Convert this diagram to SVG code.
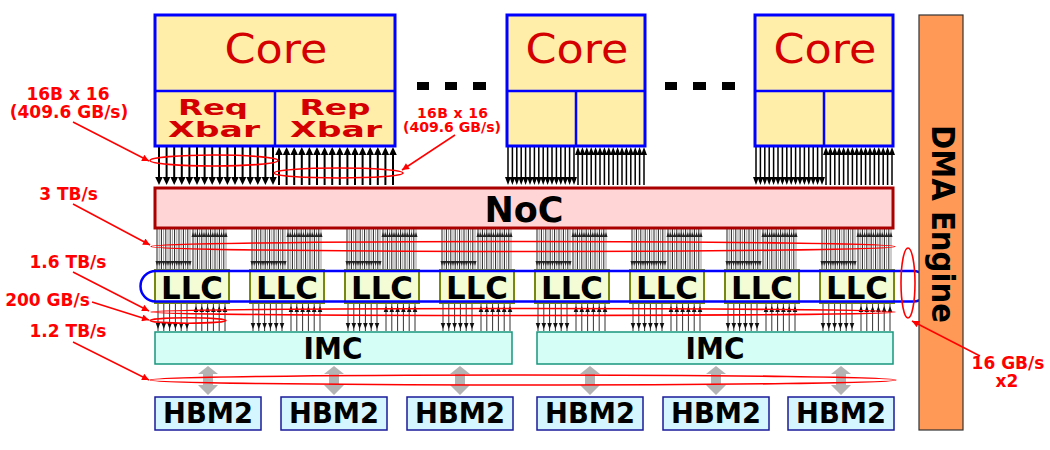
<svg xmlns="http://www.w3.org/2000/svg" width="1050" height="450" viewBox="0 0 1050 450">
<style>
.core{fill:#ffeeaa;stroke:#0000ff;stroke-width:3}
.div{stroke:#0000ff;stroke-width:2.5;fill:none}
.ct{font-family:"DejaVu Sans",sans-serif;font-size:41px;fill:#d40000;text-anchor:middle}
.xt{font-family:"DejaVu Sans",sans-serif;font-weight:bold;font-size:22px;fill:#d40000;text-anchor:middle}
.bt{font-family:"DejaVu Sans",sans-serif;font-weight:bold;fill:#000;text-anchor:middle}
.llc{fill:#f4fcd6;stroke:#778811;stroke-width:2}
.imc{fill:#d5fff6;stroke:#17967d;stroke-width:1.5}
.hbm{fill:#d5f6ff;stroke:#1a1a99;stroke-width:1.5}
.rl{font-family:"DejaVu Sans",sans-serif;font-weight:bold;fill:#ff0000;text-anchor:middle}
.re{fill:none;stroke:#ff0000;stroke-width:1.6}
.ra{fill:none;stroke:#ff0000;stroke-width:1.5;marker-end:url(#rah)}
.ga{fill:#b3b3b3}
</style>
<defs>
<marker id="rah" viewBox="0 0 10 10" refX="10" refY="5" markerWidth="10" markerHeight="7" markerUnits="userSpaceOnUse" orient="auto"><path d="M0,0L10,5L0,10z" fill="#ff0000"/></marker>
<g id="bw">
<path d="M0,0V35M7.6,0V35M15.2,0V35M22.8,0V35M30.4,0V35M38,0V35M45.6,0V35M53.2,0V35M60.8,0V35M68.4,0V35M76,0V35M83.6,0V35M91.2,0V35M98.8,0V35M106.4,0V35M114,0V35" stroke="#000" stroke-width="2"/>
<path d="M-3.8,30H117.8L114,38L110.2,30L106.4,38L102.6,30L98.8,38L95,30L91.2,38L87.4,30L83.6,38L79.8,30L76,38L72.2,30L68.4,38L64.6,30L60.8,38L57,30L53.2,38L49.4,30L45.6,38L41.8,30L38,38L34.2,30L30.4,38L26.6,30L22.8,38L19,30L15.2,38L11.4,30L7.6,38L3.8,30L0,38Z" fill="#000"/>
</g>
<g id="bn">
<path d="M0,0V35M4.4,0V35M8.8,0V35M13.2,0V35M17.6,0V35M22,0V35M26.4,0V35M30.8,0V35M35.2,0V35M39.6,0V35M44,0V35M48.4,0V35M52.8,0V35M57.2,0V35M61.6,0V35M66,0V35" stroke="#000" stroke-width="1.5"/>
<path d="M-3,30H69L66,38L63.8,32.1L61.6,38L59.4,32.1L57.2,38L55,32.1L52.8,38L50.6,32.1L48.4,38L46.2,32.1L44,38L41.8,32.1L39.6,38L37.4,32.1L35.2,38L33,32.1L30.8,38L28.6,32.1L26.4,38L24.2,32.1L22,38L19.8,32.1L17.6,38L15.4,32.1L13.2,38L11,32.1L8.8,38L6.6,32.1L4.4,38L2.2,32.1L0,38Z" fill="#000"/>
</g>
<g id="bl">
<path d="M0,0V40M4.4,0V40M8.8,0V40M13.2,0V40M17.6,0V40M22,0V40M26.4,0V40M30.8,0V40" stroke="#222" stroke-width="1"/>
<path d="M2.2,0V40M6.6,0V40M11,0V40M15.4,0V40M19.8,0V40M24.2,0V40M28.6,0V40M33,0V40" stroke="#999" stroke-width="1"/>
<path d="M-1.5,32H34.5L33,37L31.9,33.3L30.8,37L29.7,33.3L28.6,37L27.5,33.3L26.4,37L25.3,33.3L24.2,37L23.1,33.3L22,37L20.9,33.3L19.8,37L18.7,33.3L17.6,37L16.5,33.3L15.4,37L14.3,33.3L13.2,37L12.1,33.3L11,37L9.9,33.3L8.8,37L7.7,33.3L6.6,37L5.5,33.3L4.4,37L3.3,33.3L2.2,37L1.1,33.3L0,37Z" fill="#222"/>
</g>
<g id="bi">
<path d="M0,0V27M5.8,0V27M11.6,0V27M17.4,0V27M23.2,0V27M29,0V27" stroke="#333" stroke-width="1"/>
<path d="M-2.3,19H2.3L0,25ZM3.5,19H8.1L5.8,25ZM9.3,19H13.9L11.6,25ZM15.1,19H19.7L17.4,25ZM20.9,19H25.5L23.2,25ZM26.7,19H31.3L29,25Z" fill="#111"/>
</g>
<path id="dbl" d="M0,0L10,8H5V19H10L0,29L-10,19H-5V8H-10Z"/>
</defs>
<rect width="1050" height="450" fill="#fff"/>

<g id="connectors">
<use href="#bw" transform="translate(159,147)"/>
<use href="#bw" transform="translate(279,185) scale(1,-1)"/>
<use href="#bn" transform="translate(508,147)"/>
<use href="#bn" transform="translate(578,185) scale(1,-1)"/>
<use href="#bn" transform="translate(756,147)"/>
<use href="#bn" transform="translate(826,185) scale(1,-1)"/>

<use href="#bl" transform="translate(157,229)"/>
<use href="#bl" transform="translate(193,269) scale(1,-1)"/>
<use href="#bl" transform="translate(252,229)"/>
<use href="#bl" transform="translate(288,269) scale(1,-1)"/>
<use href="#bl" transform="translate(347,229)"/>
<use href="#bl" transform="translate(383,269) scale(1,-1)"/>
<use href="#bl" transform="translate(442,229)"/>
<use href="#bl" transform="translate(478,269) scale(1,-1)"/>
<use href="#bl" transform="translate(537,229)"/>
<use href="#bl" transform="translate(573,269) scale(1,-1)"/>
<use href="#bl" transform="translate(632,229)"/>
<use href="#bl" transform="translate(668,269) scale(1,-1)"/>
<use href="#bl" transform="translate(727,229)"/>
<use href="#bl" transform="translate(763,269) scale(1,-1)"/>
<use href="#bl" transform="translate(822,229)"/>
<use href="#bl" transform="translate(858,269) scale(1,-1)"/>

<use href="#bi" transform="translate(158,304)"/>
<use href="#bi" transform="translate(196,331) scale(1,-1)"/>
<use href="#bi" transform="translate(253,304)"/>
<use href="#bi" transform="translate(291,331) scale(1,-1)"/>
<use href="#bi" transform="translate(348,304)"/>
<use href="#bi" transform="translate(386,331) scale(1,-1)"/>
<use href="#bi" transform="translate(443,304)"/>
<use href="#bi" transform="translate(481,331) scale(1,-1)"/>
<use href="#bi" transform="translate(538,304)"/>
<use href="#bi" transform="translate(576,331) scale(1,-1)"/>
<use href="#bi" transform="translate(633,304)"/>
<use href="#bi" transform="translate(671,331) scale(1,-1)"/>
<use href="#bi" transform="translate(728,304)"/>
<use href="#bi" transform="translate(766,331) scale(1,-1)"/>
<use href="#bi" transform="translate(823,304)"/>
<use href="#bi" transform="translate(861,331) scale(1,-1)"/>

<use href="#dbl" class="ga" transform="translate(208,366)"/>
<use href="#dbl" class="ga" transform="translate(334,366)"/>
<use href="#dbl" class="ga" transform="translate(460,366)"/>
<use href="#dbl" class="ga" transform="translate(590,366)"/>
<use href="#dbl" class="ga" transform="translate(716,366)"/>
<use href="#dbl" class="ga" transform="translate(841,366)"/>
</g>

<g id="core1">
<rect class="core" x="155" y="15" width="240" height="131"/>
<path class="div" d="M155,91H395M275,91V146"/>
<text class="ct" x="276" y="63" textLength="103" lengthAdjust="spacingAndGlyphs">Core</text>
<text class="xt" x="213" y="115" textLength="70" lengthAdjust="spacingAndGlyphs">Req</text>
<text class="xt" x="214" y="137" textLength="92" lengthAdjust="spacingAndGlyphs">Xbar</text>
<text class="xt" x="335" y="115" textLength="71" lengthAdjust="spacingAndGlyphs">Rep</text>
<text class="xt" x="336" y="137" textLength="92" lengthAdjust="spacingAndGlyphs">Xbar</text>
</g>
<g id="core2">
<rect class="core" x="507" y="15" width="138" height="131"/>
<path class="div" d="M507,91H645M576,91V146"/>
<text class="ct" x="577" y="63" textLength="103" lengthAdjust="spacingAndGlyphs">Core</text>
</g>
<g id="core3">
<rect class="core" x="755" y="15" width="138" height="131"/>
<path class="div" d="M755,91H893M824,91V146"/>
<text class="ct" x="825" y="63" textLength="103" lengthAdjust="spacingAndGlyphs">Core</text>
</g>
<g id="ellipsis">
<rect x="417" y="82" width="12" height="8"/>
<rect x="445" y="82" width="12" height="8"/>
<rect x="473" y="82" width="13" height="8"/>
<rect x="665" y="82" width="12" height="8"/>
<rect x="693" y="82" width="13" height="8"/>
<rect x="722" y="82" width="13" height="8"/>
</g>

<g id="noc">
<rect x="155" y="188" width="738" height="40" fill="#ffd5d5" stroke="#aa0000" stroke-width="3"/>
<text class="bt" x="524" y="222" font-size="35">NoC</text>
</g>

<g id="llc1"><rect class="llc" x="155" y="270" width="74" height="33"/><text class="bt" x="192" y="299" font-size="32" textLength="62" lengthAdjust="spacingAndGlyphs">LLC</text></g>
<g id="llc2"><rect class="llc" x="250" y="270" width="74" height="33"/><text class="bt" x="287" y="299" font-size="32" textLength="62" lengthAdjust="spacingAndGlyphs">LLC</text></g>
<g id="llc3"><rect class="llc" x="345" y="270" width="74" height="33"/><text class="bt" x="382" y="299" font-size="32" textLength="62" lengthAdjust="spacingAndGlyphs">LLC</text></g>
<g id="llc4"><rect class="llc" x="440" y="270" width="74" height="33"/><text class="bt" x="477" y="299" font-size="32" textLength="62" lengthAdjust="spacingAndGlyphs">LLC</text></g>
<g id="llc5"><rect class="llc" x="535" y="270" width="74" height="33"/><text class="bt" x="572" y="299" font-size="32" textLength="62" lengthAdjust="spacingAndGlyphs">LLC</text></g>
<g id="llc6"><rect class="llc" x="630" y="270" width="74" height="33"/><text class="bt" x="667" y="299" font-size="32" textLength="62" lengthAdjust="spacingAndGlyphs">LLC</text></g>
<g id="llc7"><rect class="llc" x="725" y="270" width="74" height="33"/><text class="bt" x="762" y="299" font-size="32" textLength="62" lengthAdjust="spacingAndGlyphs">LLC</text></g>
<g id="llc8"><rect class="llc" x="820" y="270" width="74" height="33"/><text class="bt" x="857" y="299" font-size="32" textLength="62" lengthAdjust="spacingAndGlyphs">LLC</text></g>

<g id="llc-ring"><rect x="140.5" y="271" width="788" height="30.5" rx="15.2" fill="none" stroke="#0000ff" stroke-width="2.5"/></g>

<g id="imc1"><rect class="imc" x="155" y="332" width="357" height="32"/><text class="bt" x="333" y="359" font-size="30" textLength="59" lengthAdjust="spacingAndGlyphs">IMC</text></g>
<g id="imc2"><rect class="imc" x="537" y="332" width="356" height="32"/><text class="bt" x="715" y="359" font-size="30" textLength="59" lengthAdjust="spacingAndGlyphs">IMC</text></g>

<g id="hbm1"><rect class="hbm" x="155" y="397" width="106" height="33"/><text class="bt" x="208" y="423" font-size="28" textLength="90" lengthAdjust="spacingAndGlyphs">HBM2</text></g>
<g id="hbm2"><rect class="hbm" x="281" y="397" width="106" height="33"/><text class="bt" x="334" y="423" font-size="28" textLength="90" lengthAdjust="spacingAndGlyphs">HBM2</text></g>
<g id="hbm3"><rect class="hbm" x="407" y="397" width="106" height="33"/><text class="bt" x="460" y="423" font-size="28" textLength="90" lengthAdjust="spacingAndGlyphs">HBM2</text></g>
<g id="hbm4"><rect class="hbm" x="537" y="397" width="106" height="33"/><text class="bt" x="590" y="423" font-size="28" textLength="90" lengthAdjust="spacingAndGlyphs">HBM2</text></g>
<g id="hbm5"><rect class="hbm" x="663" y="397" width="106" height="33"/><text class="bt" x="716" y="423" font-size="28" textLength="90" lengthAdjust="spacingAndGlyphs">HBM2</text></g>
<g id="hbm6"><rect class="hbm" x="788" y="397" width="106" height="33"/><text class="bt" x="841" y="423" font-size="28" textLength="90" lengthAdjust="spacingAndGlyphs">HBM2</text></g>

<g id="dma">
<rect x="919" y="15" width="44" height="415" fill="#ff9955" stroke="#333" stroke-width="1.2"/>
<text class="bt" font-size="32" transform="translate(932,224) rotate(90)" textLength="198" lengthAdjust="spacingAndGlyphs">DMA Engine</text>
</g>

<g id="annotations">
<ellipse class="re" cx="214" cy="160.5" rx="64" ry="5.5"/>
<ellipse class="re" cx="338.5" cy="173" rx="64.5" ry="5"/>
<ellipse class="re" cx="523" cy="246.5" rx="372" ry="5"/>
<ellipse class="re" cx="523" cy="312" rx="372" ry="3.5"/>
<ellipse class="re" cx="188" cy="320.5" rx="38" ry="2.7"/>
<ellipse class="re" cx="523" cy="380" rx="373" ry="5"/>
<ellipse class="re" cx="908" cy="283" rx="7" ry="35"/>
<path class="ra" d="M73,122L149,161"/>
<path class="ra" d="M455,135L402,170"/>
<path class="ra" d="M73,204L150,245"/>
<path class="ra" d="M73,272L149,311"/>
<path class="ra" d="M92,302L149,320"/>
<path class="ra" d="M73,342L149,380"/>
<path class="ra" d="M980,356L912,321"/>
<text class="rl" x="68" y="100" font-size="17">16B x 16</text>
<text class="rl" x="69" y="118" font-size="17">(409.6 GB/s)</text>
<text class="rl" x="452.5" y="118" font-size="14" textLength="71" lengthAdjust="spacing">16B x 16</text>
<text class="rl" x="452" y="132" font-size="14" textLength="98" lengthAdjust="spacingAndGlyphs">(409.6 GB/s)</text>
<text class="rl" x="68.5" y="200" font-size="17">3 TB/s</text>
<text class="rl" x="68" y="268" font-size="17">1.6 TB/s</text>
<text class="rl" x="47.5" y="306" font-size="17">200 GB/s</text>
<text class="rl" x="68" y="337" font-size="17">1.2 TB/s</text>
<text class="rl" x="1008" y="369" font-size="17">16 GB/s</text>
<text class="rl" x="1007" y="387" font-size="17">x2</text>
</g>
</svg>
